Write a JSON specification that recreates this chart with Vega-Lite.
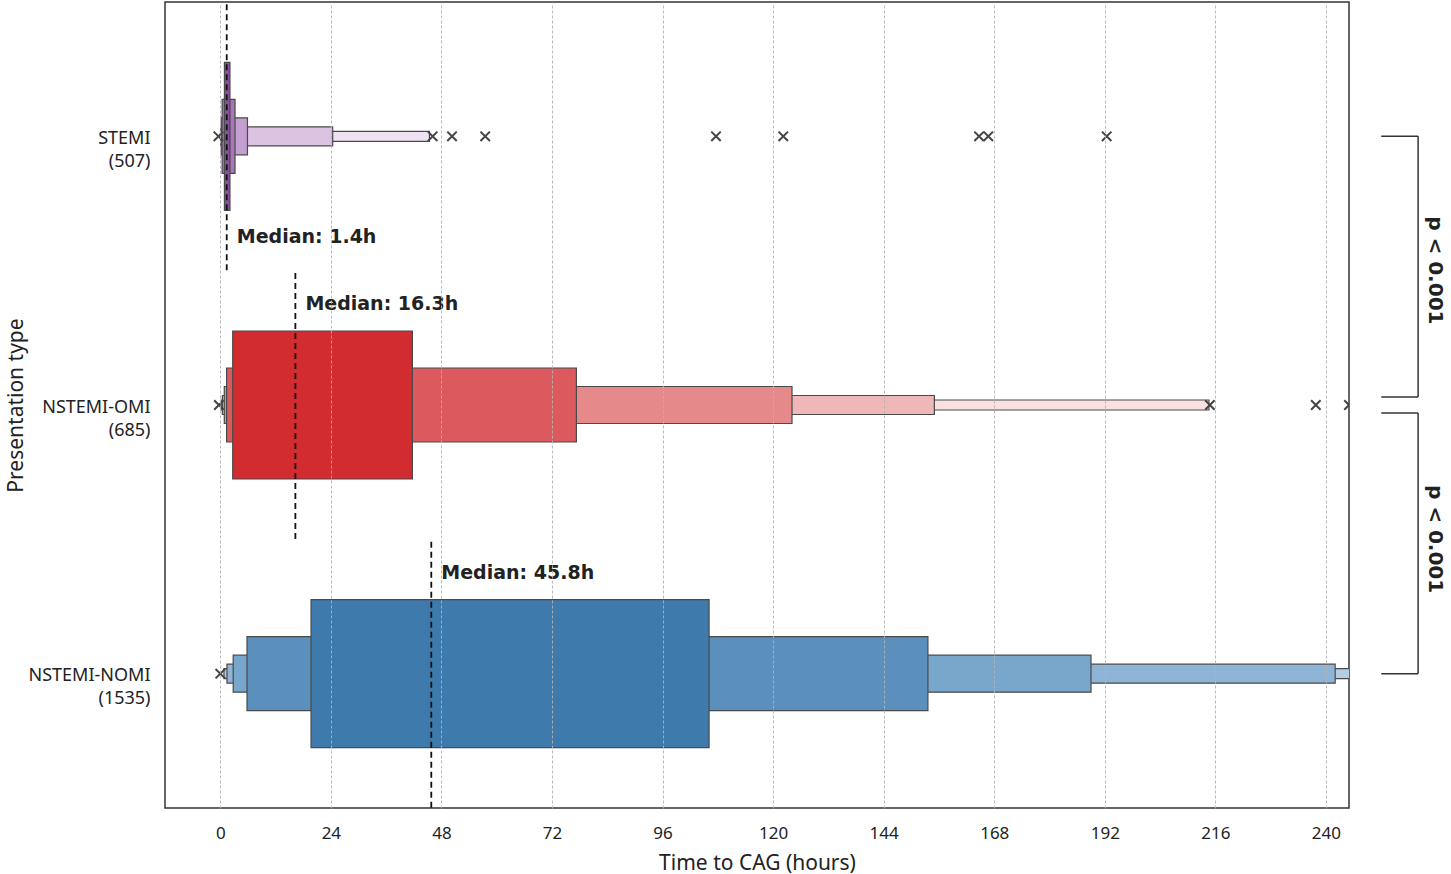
{
  "$schema": "https://vega.github.io/schema/vega-lite/v6.json",
  "width": 1184,
  "height": 806,
  "autosize": {"type": "none"},
  "padding": {"left": 165, "top": 2, "right": 102, "bottom": 66},
  "background": "white",
  "config": {"view": {"stroke": "#333333", "strokeWidth": 1.5}, "font": "Noto Sans"},
  "datasets": {
    "boxes": [
      {"group": "STEMI", "row": 0, "level": 5, "lo": 0.05, "hi": 45.4},
      {"group": "STEMI", "row": 0, "level": 4, "lo": 0.1, "hi": 24.4},
      {"group": "STEMI", "row": 0, "level": 3, "lo": 0.2, "hi": 5.9},
      {"group": "STEMI", "row": 0, "level": 2, "lo": 0.4, "hi": 3.2},
      {"group": "STEMI", "row": 0, "level": 1, "lo": 0.9, "hi": 2.1},
      {"group": "NSTEMI-OMI", "row": 1, "level": 5, "lo": 0.2, "hi": 214.6},
      {"group": "NSTEMI-OMI", "row": 1, "level": 4, "lo": 0.45, "hi": 155.0},
      {"group": "NSTEMI-OMI", "row": 1, "level": 3, "lo": 0.87, "hi": 124.1},
      {"group": "NSTEMI-OMI", "row": 1, "level": 2, "lo": 1.37, "hi": 77.3},
      {"group": "NSTEMI-OMI", "row": 1, "level": 1, "lo": 2.7, "hi": 41.7},
      {"group": "NSTEMI-NOMI", "row": 2, "level": 5, "lo": 0.8, "hi": 252.0},
      {"group": "NSTEMI-NOMI", "row": 2, "level": 4, "lo": 1.45, "hi": 242.0},
      {"group": "NSTEMI-NOMI", "row": 2, "level": 3, "lo": 2.8, "hi": 189.0},
      {"group": "NSTEMI-NOMI", "row": 2, "level": 2, "lo": 5.8, "hi": 153.6},
      {"group": "NSTEMI-NOMI", "row": 2, "level": 1, "lo": 19.7, "hi": 106.1}
    ],
    "outliers": [
      {"group": "STEMI", "row": 0, "hours": -0.4},
      {"group": "STEMI", "row": 0, "hours": 46.1},
      {"group": "STEMI", "row": 0, "hours": 50.3},
      {"group": "STEMI", "row": 0, "hours": 57.5},
      {"group": "STEMI", "row": 0, "hours": 107.6},
      {"group": "STEMI", "row": 0, "hours": 122.2},
      {"group": "STEMI", "row": 0, "hours": 164.7},
      {"group": "STEMI", "row": 0, "hours": 166.7},
      {"group": "STEMI", "row": 0, "hours": 192.4},
      {"group": "NSTEMI-OMI", "row": 1, "hours": -0.3},
      {"group": "NSTEMI-OMI", "row": 1, "hours": 214.8},
      {"group": "NSTEMI-OMI", "row": 1, "hours": 237.8},
      {"group": "NSTEMI-OMI", "row": 1, "hours": 245.0},
      {"group": "NSTEMI-NOMI", "row": 2, "hours": 0.0}
    ],
    "medians": [
      {"group": "STEMI", "row": 0, "median": 1.4, "label": "Median: 1.4h"},
      {"group": "NSTEMI-OMI", "row": 1, "median": 16.3, "label": "Median: 16.3h"},
      {"group": "NSTEMI-NOMI", "row": 2, "median": 45.8, "label": "Median: 45.8h"}
    ],
    "tests": [
      {"comparison": "STEMI vs NSTEMI-OMI", "from": 0, "to": 1, "p": "p < 0.001"},
      {"comparison": "NSTEMI-OMI vs NSTEMI-NOMI", "from": 1, "to": 2, "p": "p < 0.001"}
    ]
  },
  "layer": [
    {
      "data": {"name": "boxes"},
      "mark": {"type": "bar", "stroke": "#4a4a4a", "strokeWidth": 1.2, "clip": true},
      "encoding": {
        "x": {
          "field": "lo", "type": "quantitative", "title": "Time to CAG (hours)",
          "scale": {"domain": [-12, 245], "nice": false, "zero": false, "padding": 0},
          "axis": {
            "values": [0, 24, 48, 72, 96, 120, 144, 168, 192, 216, 240],
            "ticks": false, "domain": false, "grid": true,
            "gridColor": "#b3b3b3", "gridDash": [3, 2], "gridWidth": 0.9,
            "labelFont": "Noto Sans", "labelFontSize": 17, "labelColor": "#222222", "labelPadding": 17,
            "titleFont": "Noto Sans", "titleFontSize": 21, "titleFontWeight": "normal", "titleColor": "#222222", "titlePadding": 11,
            "zindex": 1
          }
        },
        "x2": {"field": "hi"},
        "y": {
          "field": "row", "type": "quantitative", "title": "Presentation type",
          "scale": {"domain": [-0.5, 2.5], "reverse": true, "nice": false, "zero": false, "padding": 0},
          "axis": {
            "values": [0, 1, 2],
            "labelExpr": "datum.value === 0 ? ['STEMI', '(507)'] : datum.value === 1 ? ['NSTEMI-OMI', '(685)'] : ['NSTEMI-NOMI', '(1535)']",
            "ticks": false, "domain": false, "grid": false,
            "labelFont": "Noto Sans", "labelFontSize": 18, "labelColor": "#222222", "labelPadding": 15,
            "labelLineHeight": 23, "labelOffset": 2,
            "titleFont": "Noto Sans", "titleFontSize": 21, "titleFontWeight": "normal", "titleColor": "#222222",
            "titleX": -149, "titleY": 403, "titleAngle": -90, "titleAlign": "center", "titleBaseline": "middle"
          }
        },
        "size": {
          "field": "level", "type": "ordinal", "legend": null,
          "scale": {"type": "ordinal", "domain": [1, 2, 3, 4, 5], "range": [148, 74, 37, 19, 10]}
        },
        "color": {
          "condition": [
            {"test": "datum.group === 'STEMI' && datum.level === 1", "value": "#8a4f9c"},
            {"test": "datum.group === 'STEMI' && datum.level === 2", "value": "#a878b6"},
            {"test": "datum.group === 'STEMI' && datum.level === 3", "value": "#c49fd0"},
            {"test": "datum.group === 'STEMI' && datum.level === 4", "value": "#dcc3e2"},
            {"test": "datum.group === 'STEMI' && datum.level === 5", "value": "#efe3f3"},
            {"test": "datum.group === 'NSTEMI-OMI' && datum.level === 1", "value": "#d22b30"},
            {"test": "datum.group === 'NSTEMI-OMI' && datum.level === 2", "value": "#dc5a5e"},
            {"test": "datum.group === 'NSTEMI-OMI' && datum.level === 3", "value": "#e6898b"},
            {"test": "datum.group === 'NSTEMI-OMI' && datum.level === 4", "value": "#f0b7b9"},
            {"test": "datum.group === 'NSTEMI-OMI' && datum.level === 5", "value": "#f9e1e2"},
            {"test": "datum.group === 'NSTEMI-NOMI' && datum.level === 1", "value": "#3e7aab"},
            {"test": "datum.group === 'NSTEMI-NOMI' && datum.level === 2", "value": "#5b8fbc"},
            {"test": "datum.group === 'NSTEMI-NOMI' && datum.level === 3", "value": "#79a6cb"},
            {"test": "datum.group === 'NSTEMI-NOMI' && datum.level === 4", "value": "#8fb5d6"}
          ],
          "value": "#b4cde3"
        }
      }
    },
    {
      "data": {"name": "outliers"},
      "mark": {"type": "point", "shape": "M-1,-1L1,1M-1,1L1,-1", "filled": false, "stroke": "#444444", "strokeWidth": 2, "size": 90, "opacity": 1, "clip": true},
      "encoding": {
        "x": {"field": "hours", "type": "quantitative", "title": "Time to CAG (hours)"},
        "y": {"field": "row", "type": "quantitative", "title": "Presentation type"}
      }
    },
    {
      "data": {"name": "medians"},
      "mark": {"type": "rule", "color": "#111111", "strokeWidth": 1.8, "strokeDash": [6, 4], "yOffset": -132, "y2Offset": 138, "clip": true},
      "encoding": {
        "x": {"field": "median", "type": "quantitative", "title": "Time to CAG (hours)"},
        "y": {"field": "row", "type": "quantitative", "title": "Presentation type"},
        "y2": {"field": "row"}
      }
    },
    {
      "data": {"name": "medians"},
      "transform": [{"filter": "datum.row === 0"}],
      "mark": {"type": "text", "font": "DejaVu Sans", "fontWeight": "bold", "fontSize": 19, "color": "#222222", "align": "left", "baseline": "middle", "dx": 10, "dy": 101},
      "encoding": {
        "x": {"field": "median", "type": "quantitative", "title": "Time to CAG (hours)"},
        "y": {"field": "row", "type": "quantitative", "title": "Presentation type"},
        "text": {"field": "label"}
      }
    },
    {
      "data": {"name": "medians"},
      "transform": [{"filter": "datum.row !== 0"}],
      "mark": {"type": "text", "font": "DejaVu Sans", "fontWeight": "bold", "fontSize": 19, "color": "#222222", "align": "left", "baseline": "middle", "dx": 10, "dy": -101},
      "encoding": {
        "x": {"field": "median", "type": "quantitative", "title": "Time to CAG (hours)"},
        "y": {"field": "row", "type": "quantitative", "title": "Presentation type"},
        "text": {"field": "label"}
      }
    },
    {
      "data": {"name": "tests"},
      "transform": [{"filter": "datum.from === 0"}],
      "layer": [
        {
          "mark": {"type": "rule", "color": "#333333", "strokeWidth": 1.5},
          "encoding": {
            "x": {"datum": 252, "type": "quantitative", "title": "Time to CAG (hours)"},
            "x2": {"datum": 260},
            "y": {"field": "from", "type": "quantitative", "title": "Presentation type"}
          }
        },
        {
          "mark": {"type": "rule", "color": "#333333", "strokeWidth": 1.5, "yOffset": -8},
          "encoding": {
            "x": {"datum": 252, "type": "quantitative", "title": "Time to CAG (hours)"},
            "x2": {"datum": 260},
            "y": {"field": "to", "type": "quantitative", "title": "Presentation type"}
          }
        },
        {
          "mark": {"type": "rule", "color": "#333333", "strokeWidth": 1.5, "y2Offset": -8},
          "encoding": {
            "x": {"datum": 260, "type": "quantitative", "title": "Time to CAG (hours)"},
            "y": {"field": "from", "type": "quantitative", "title": "Presentation type"},
            "y2": {"field": "to"}
          }
        }
      ]
    },
    {
      "data": {"name": "tests"},
      "transform": [{"filter": "datum.from === 1"}],
      "layer": [
        {
          "mark": {"type": "rule", "color": "#333333", "strokeWidth": 1.5, "yOffset": 8},
          "encoding": {
            "x": {"datum": 252, "type": "quantitative", "title": "Time to CAG (hours)"},
            "x2": {"datum": 260},
            "y": {"field": "from", "type": "quantitative", "title": "Presentation type"}
          }
        },
        {
          "mark": {"type": "rule", "color": "#333333", "strokeWidth": 1.5},
          "encoding": {
            "x": {"datum": 252, "type": "quantitative", "title": "Time to CAG (hours)"},
            "x2": {"datum": 260},
            "y": {"field": "to", "type": "quantitative", "title": "Presentation type"}
          }
        },
        {
          "mark": {"type": "rule", "color": "#333333", "strokeWidth": 1.5, "yOffset": 8},
          "encoding": {
            "x": {"datum": 260, "type": "quantitative", "title": "Time to CAG (hours)"},
            "y": {"field": "from", "type": "quantitative", "title": "Presentation type"},
            "y2": {"field": "to"}
          }
        }
      ]
    },
    {
      "data": {"name": "tests"},
      "mark": {"type": "text", "font": "DejaVu Sans", "fontWeight": "bold", "fontSize": 20, "color": "#222222", "angle": 90, "align": "center", "baseline": "middle", "yOffset": 134},
      "encoding": {
        "x": {"datum": 263.7, "type": "quantitative", "title": "Time to CAG (hours)"},
        "y": {"field": "from", "type": "quantitative", "title": "Presentation type"},
        "text": {"field": "p"}
      }
    }
  ]
}
